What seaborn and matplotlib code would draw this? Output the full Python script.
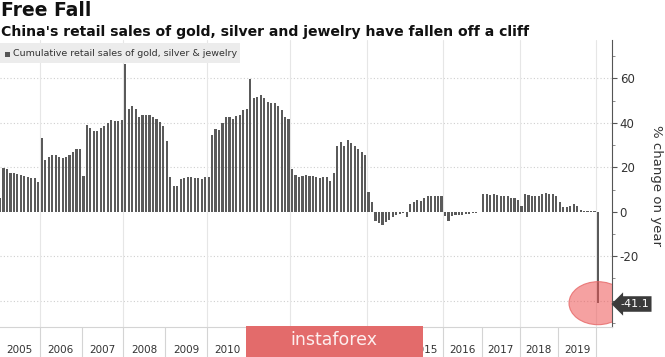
import numpy as np
import pandas as pd
import matplotlib
matplotlib.use("Agg")
import matplotlib.pyplot as plt
from matplotlib.patches import Ellipse, Rectangle
import seaborn as sns

# ---- data (cumulative YTD % change on year) ----
years = [2005, 2006, 2007, 2008, 2009, 2010, 2011, 2012, 2013, 2014, 2015, 2016, 2017, 2018, 2019, 2020]
v2005 = [6.0, 19.5, 19.0, 17.4, 17.4, 17.1, 16.5, 16.0, 15.4, 15.0, 15.0, 13.5]
v2006 = [33.0, 23.2, 24.4, 25.5, 25.5, 24.4, 24.3, 24.7, 25.5, 27.0, 28.3, 28.3]
v2007 = [16.0, 39.0, 37.8, 36.4, 36.4, 37.5, 38.5, 40.1, 41.3, 40.9, 40.9, 41.3]
v2008 = [66.4, 46.4, 47.5, 46.0, 42.7, 43.7, 43.7, 43.7, 42.7, 41.6, 40.4, 38.4]
v2009 = [31.8, 15.7, 11.4, 11.4, 14.8, 15.1, 15.4, 15.7, 15.1, 15.1, 14.7, 15.6]
v2010 = [15.4, 34.5, 37.2, 36.9, 40.1, 42.5, 42.5, 41.8, 43.1, 43.4, 45.7, 46.0]
v2011 = [59.5, 51.1, 51.7, 52.6, 51.1, 49.4, 49.1, 48.7, 47.6, 45.7, 42.7, 41.9]
v2012 = [19.0, 16.3, 15.4, 15.9, 16.3, 16.2, 15.9, 15.4, 15.0, 15.6, 15.7]
v2013 = [13.9, 17.2, 29.5, 31.2, 29.4, 32.2, 31.0, 29.4, 28.0, 26.7, 25.6]
v2014 = [9.0, 4.5, -4.2, -5.2, -5.8, -4.6, -3.6, -2.4, -1.5, -1.0, -0.7]
v2015 = [-2.2, 3.3, 4.5, 5.2, 4.8, 6.0, 7.2, 7.2, 6.9, 6.9, 6.9]
v2016 = [-1.8, -4.0, -1.8, -1.6, -1.5, -1.6, -1.2, -0.9, -0.7, -0.4, -0.3]
v2017 = [7.9, 7.9, 7.5, 8.1, 7.5, 7.0, 6.9, 7.2, 6.1, 6.0, 5.2]
v2018 = [2.7, 7.9, 7.5, 7.2, 7.2, 7.2, 8.1, 8.5, 8.2, 8.1, 7.2]
v2019 = [4.2, 2.2, 2.2, 2.7, 3.3, 2.5, 1.0, 0.5, 0.2, 0.2, 0.4]
v2020 = [-41.1]
series_by_year = [v2005, v2006, v2007, v2008, v2009, v2010, v2011, v2012,
                  v2013, v2014, v2015, v2016, v2017, v2018, v2019, v2020]
# year labels visible in the reference (2011-2014 are hidden behind the watermark)
year_labels_shown = [2005, 2006, 2007, 2008, 2009, 2010, 2015, 2016, 2017, 2018, 2019]
latest_label = "-41.1"
yticks = [-40, -20, 0, 20, 40, 60]
ytick_labels = ["", "-20", "0", "20", "40", "60"]

values = np.concatenate([np.array(v, dtype=float) for v in series_by_year])
year_of_bar = np.concatenate([[y] * len(v) for y, v in zip(years, series_by_year)])
counts = [len(v) for v in series_by_year]
starts = np.concatenate([[0], np.cumsum(counts)[:-1]])
df = pd.DataFrame({"idx": np.arange(len(values)), "value": values, "year": year_of_bar})

# ---- figure ----
sns.set_style("white")
plt.rcParams["font.family"] = ["DejaVu Sans"]
W, H = 665, 357
fig = plt.figure(figsize=(W / 100, H / 100), dpi=100)
ax_left, ax_right, ax_top, ax_bot = 0, 612, 40, 327
ax = fig.add_axes([ax_left / W, (H - ax_bot) / H, (ax_right - ax_left) / W, (ax_bot - ax_top) / H])

sns.barplot(data=df, x="idx", y="value", color="#5a5a5a", saturation=1,
            width=0.62, errorbar=None, ax=ax, zorder=2, linewidth=0)
for p in ax.patches:
    p.set_antialiased(False)

n = len(values)
ax.set_xlim(0, (ax_right - ax_left) / (598 / (n - 1)))
ax.set_ylim(-51.8, 77.2)
ax.set_xlabel("")
ax.set_ylabel("")

# gridlines
for y in [60, 40, 20, -20, -40]:
    ax.axhline(y, color="#cfcfcf", lw=0.8, ls=(0, (1, 2)), zorder=0)
for y0, s in zip(years, starts):
    if (y0 - 2006) % 2 == 0 and y0 >= 2006:
        ax.axvline(s - 0.5, color="#e6e6e6", lw=0.8, zorder=0)

# x axis: year separators & labels below
ax.set_xticks([])
xt = ax.get_xaxis_transform()
sep_len = (H - ax_bot) / (ax_bot - ax_top)
for y0, s, c in zip(years, starts, counts):
    if y0 >= 2006:
        ax.plot([s - 0.5, s - 0.5], [0, -sep_len], transform=xt, color="#d4d4d4",
                lw=0.8, clip_on=False, zorder=1)
    if y0 in year_labels_shown:
        ax.text(s + c / 2 - 0.5, -(350 - ax_bot) / (ax_bot - ax_top), str(y0),
                transform=xt, ha="center", va="center", fontsize=7.5, color="#333333",
                clip_on=False)

# right axis
ax.yaxis.tick_right()
ax.set_yticks(yticks)
ax.set_yticklabels(ytick_labels)
ax.set_yticks(np.arange(-50, 71, 10), minor=True)
ax.tick_params(axis="y", which="major", direction="out", length=3.5, width=0.8,
               color="#555555", labelsize=8.5, labelcolor="#333333", pad=2)
ax.tick_params(axis="y", which="minor", direction="out", length=2, width=0.6,
               color="#777777")
for side in ["left", "top"]:
    ax.spines[side].set_visible(False)
ax.spines["right"].set_color("#555555")
ax.spines["right"].set_linewidth(0.8)
ax.spines["bottom"].set_color("#d4d4d4")
ax.spines["bottom"].set_linewidth(0.8)

fig.text(656 / W, 1 - 185 / H, "% change on year", rotation=270, ha="center",
         va="center", fontsize=9.5, color="#333333")

# highlight of last value
px_per_x = 598 / (n - 1)
px_per_y = (ax_bot - ax_top) / (77.2 + 51.8)
ax.add_patch(Ellipse((n - 1, values[-1]), 58 / px_per_x, 43 / px_per_y,
                     facecolor=(0.93, 0.33, 0.33, 0.55), edgecolor=(0.9, 0.4, 0.4, 0.8),
                     lw=0.8, zorder=3))
fig.text(620 / W, 1 - 304 / H, latest_label, color="white", fontsize=8,
         ha="left", va="center",
         bbox=dict(boxstyle="larrow,pad=0.25", fc="#3b3b3b", ec="none"))

# titles
fig.text(0.002, 1 - 11 / H, "Free Fall", fontsize=13.5, fontweight="bold",
         ha="left", va="center", color="#111111")
fig.text(0.002, 1 - 32 / H,
         "China's retail sales of gold, silver and jewelry have fallen off a cliff",
         fontsize=10.1, fontweight="bold", ha="left", va="center", color="#111111")

# legend
fig.add_artist(Rectangle((0, 1 - 63 / H), 240 / W, 20 / H, transform=fig.transFigure,
                         facecolor="#ececec", edgecolor="none", zorder=2))
fig.add_artist(Rectangle((5 / W, 1 - 56.5 / H), 5 / W, 5 / H, transform=fig.transFigure,
                         facecolor="#555555", edgecolor="none", zorder=3))
fig.text(13 / W, 1 - 53.5 / H, "Cumulative retail sales of gold, silver & jewelry",
         fontsize=6.8, ha="left", va="center", color="#333333", zorder=4)

# watermark
fig.add_artist(Rectangle((246 / W, 0), 177 / W, 31 / H, transform=fig.transFigure,
                         facecolor="#e36b6b", edgecolor="none", zorder=5))
fig.text(334 / W, 1 - 340 / H, "instaforex", fontsize=12.5, ha="center", va="center",
         color="#fdeeee", zorder=6)

fig.savefig("out.png", dpi=100)
